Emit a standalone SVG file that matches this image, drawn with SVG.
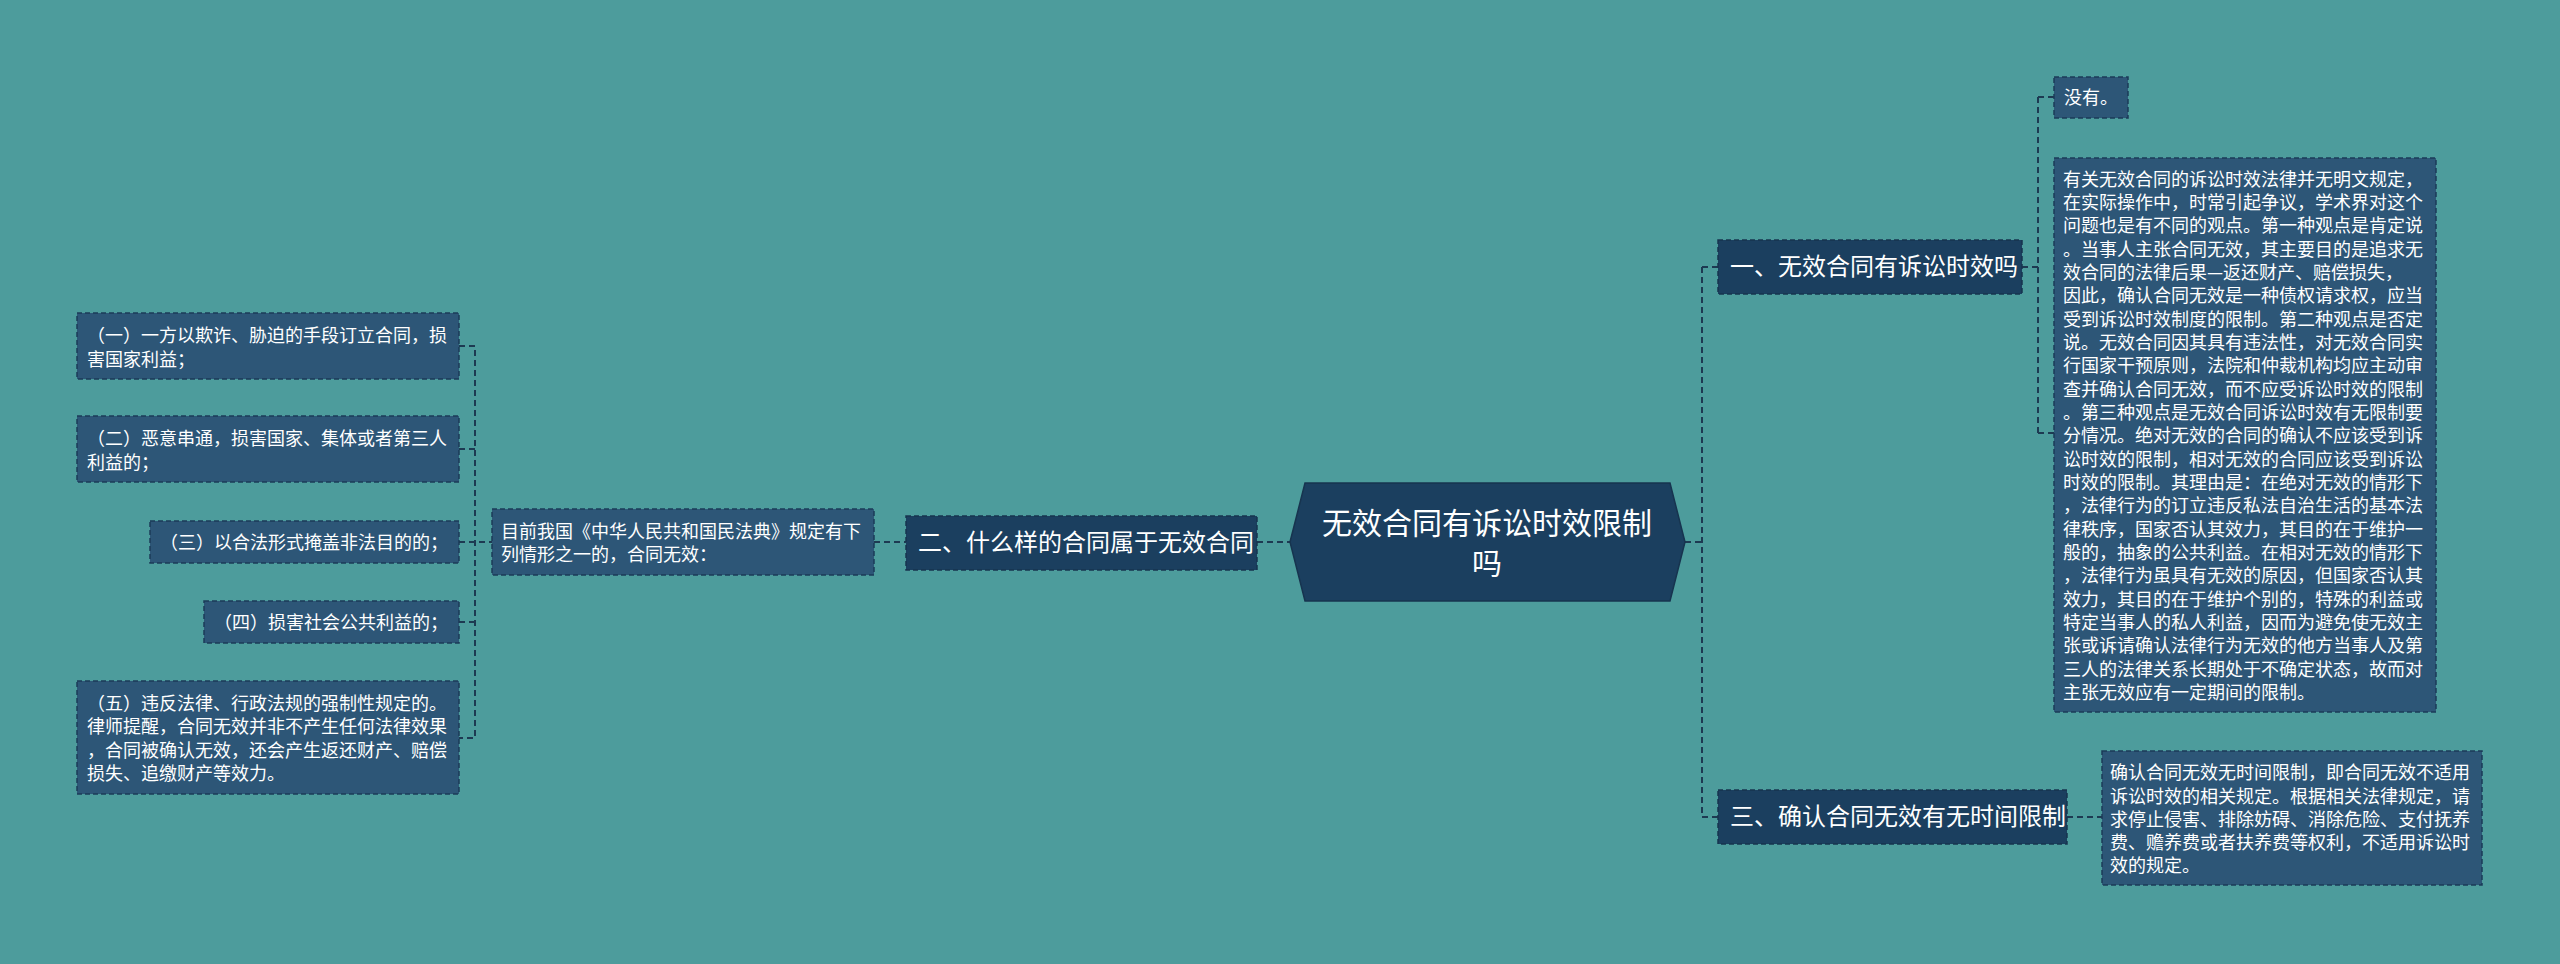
<svg xmlns="http://www.w3.org/2000/svg" width="2560" height="964" viewBox="0 0 2560 964">
<style>
text{font-family:"Noto Sans CJK SC","Noto Sans",sans-serif;fill:#ffffff}
.b{fill:#2d5677;stroke:#1b3b58;stroke-width:1.5;stroke-dasharray:5,3}
.m{fill:#1b3f5f;stroke:#17344f;stroke-width:1.5;stroke-dasharray:5,3}
.t{font-size:18px}
.h{font-size:24px}
.c{fill:none;stroke:#1d3a52;stroke-width:2;stroke-dasharray:6,4}
</style>
<rect width="2560" height="964" fill="#4d9c9c"/>
<g id="connectors">
<path class="c" d="M1257,542 H1290"/>
<path class="c" d="M874,542 H906"/>
<path class="c" d="M459,346 H475 V738 H459 M459,449 H475 M459,542 H492 M459,622 H475"/>
<path class="c" d="M1685,542 H1702 M1702,267 V817 M1702,267 H1718 M1702,817 H1718"/>
<path class="c" d="M2022,267 H2038 M2038,97 V433 M2038,97 H2054 M2038,433 H2054"/>
<path class="c" d="M2067,817 H2102"/>
</g>
<g id="center">
<polygon points="1290,542 1305,483 1670,483 1685,542 1670,601 1305,601" fill="#1b3f5f" stroke="#17344f" stroke-width="1.5"/>
<text x="1487" y="534" font-size="30" text-anchor="middle">无效合同有诉讼时效限制</text>
<text x="1487" y="574" font-size="30" text-anchor="middle">吗</text>
</g>
<g id="n1">
<rect class="m" x="1718" y="240" width="304" height="54"/>
<text class="h" x="1730" y="275">一、无效合同有诉讼时效吗</text>
</g>
<g id="n3">
<rect class="m" x="1718" y="790" width="349" height="54"/>
<text class="h" x="1730" y="825">三、确认合同无效有无时间限制</text>
</g>
<g id="n2">
<rect class="m" x="906" y="516" width="351" height="54"/>
<text class="h" x="918" y="551">二、什么样的合同属于无效合同</text>
</g>
<g id="n1a">
<rect class="b" x="2054" y="77" width="74" height="41"/>
<text class="t" x="2064" y="104">没有。</text>
</g>
<g id="n1b">
<rect class="b" x="2054" y="158" width="382" height="554"/>
<text class="t" x="2063" y="186">有关无效合同的诉讼时效法律并无明文规定，</text>
<text class="t" x="2063" y="209">在实际操作中，时常引起争议，学术界对这个</text>
<text class="t" x="2063" y="232">问题也是有不同的观点。第一种观点是肯定说</text>
<text class="t" x="2063" y="256">。当事人主张合同无效，其主要目的是追求无</text>
<text class="t" x="2063" y="279">效合同的法律后果—返还财产、赔偿损失，</text>
<text class="t" x="2063" y="302">因此，确认合同无效是一种债权请求权，应当</text>
<text class="t" x="2063" y="326">受到诉讼时效制度的限制。第二种观点是否定</text>
<text class="t" x="2063" y="349">说。无效合同因其具有违法性，对无效合同实</text>
<text class="t" x="2063" y="372">行国家干预原则，法院和仲裁机构均应主动审</text>
<text class="t" x="2063" y="396">查并确认合同无效，而不应受诉讼时效的限制</text>
<text class="t" x="2063" y="419">。第三种观点是无效合同诉讼时效有无限制要</text>
<text class="t" x="2063" y="442">分情况。绝对无效的合同的确认不应该受到诉</text>
<text class="t" x="2063" y="466">讼时效的限制，相对无效的合同应该受到诉讼</text>
<text class="t" x="2063" y="489">时效的限制。其理由是：在绝对无效的情形下</text>
<text class="t" x="2063" y="512">，法律行为的订立违反私法自治生活的基本法</text>
<text class="t" x="2063" y="536">律秩序，国家否认其效力，其目的在于维护一</text>
<text class="t" x="2063" y="559">般的，抽象的公共利益。在相对无效的情形下</text>
<text class="t" x="2063" y="582">，法律行为虽具有无效的原因，但国家否认其</text>
<text class="t" x="2063" y="606">效力，其目的在于维护个别的，特殊的利益或</text>
<text class="t" x="2063" y="629">特定当事人的私人利益，因而为避免使无效主</text>
<text class="t" x="2063" y="652">张或诉请确认法律行为无效的他方当事人及第</text>
<text class="t" x="2063" y="676">三人的法律关系长期处于不确定状态，故而对</text>
<text class="t" x="2063" y="699">主张无效应有一定期间的限制。</text>
</g>
<g id="n3a">
<rect class="b" x="2102" y="751" width="380" height="134"/>
<text class="t" x="2110" y="779">确认合同无效无时间限制，即合同无效不适用</text>
<text class="t" x="2110" y="803">诉讼时效的相关规定。根据相关法律规定，请</text>
<text class="t" x="2110" y="826">求停止侵害、排除妨碍、消除危险、支付抚养</text>
<text class="t" x="2110" y="849">费、赡养费或者扶养费等权利，不适用诉讼时</text>
<text class="t" x="2110" y="872">效的规定。</text>
</g>
<g id="n2a">
<rect class="b" x="492" y="509" width="382" height="66"/>
<text class="t" x="501" y="538">目前我国《中华人民共和国民法典》规定有下</text>
<text class="t" x="501" y="561">列情形之一的，合同无效：</text>
</g>
<g id="i1">
<rect class="b" x="77" y="313" width="382" height="66"/>
<text class="t" x="87" y="342">（一）一方以欺诈、胁迫的手段订立合同，损</text>
<text class="t" x="87" y="366">害国家利益；</text>
</g>
<g id="i2">
<rect class="b" x="77" y="416" width="382" height="66"/>
<text class="t" x="87" y="445">（二）恶意串通，损害国家、集体或者第三人</text>
<text class="t" x="87" y="469">利益的；</text>
</g>
<g id="i3">
<rect class="b" x="150" y="521" width="309" height="42"/>
<text class="t" x="160" y="549">（三）以合法形式掩盖非法目的的；</text>
</g>
<g id="i4">
<rect class="b" x="204" y="601" width="255" height="42"/>
<text class="t" x="214" y="629">（四）损害社会公共利益的；</text>
</g>
<g id="i5">
<rect class="b" x="77" y="681" width="382" height="113"/>
<text class="t" x="87" y="710">（五）违反法律、行政法规的强制性规定的。</text>
<text class="t" x="87" y="733">律师提醒，合同无效并非不产生任何法律效果</text>
<text class="t" x="87" y="757">，合同被确认无效，还会产生返还财产、赔偿</text>
<text class="t" x="87" y="780">损失、追缴财产等效力。</text>
</g>
</svg>
